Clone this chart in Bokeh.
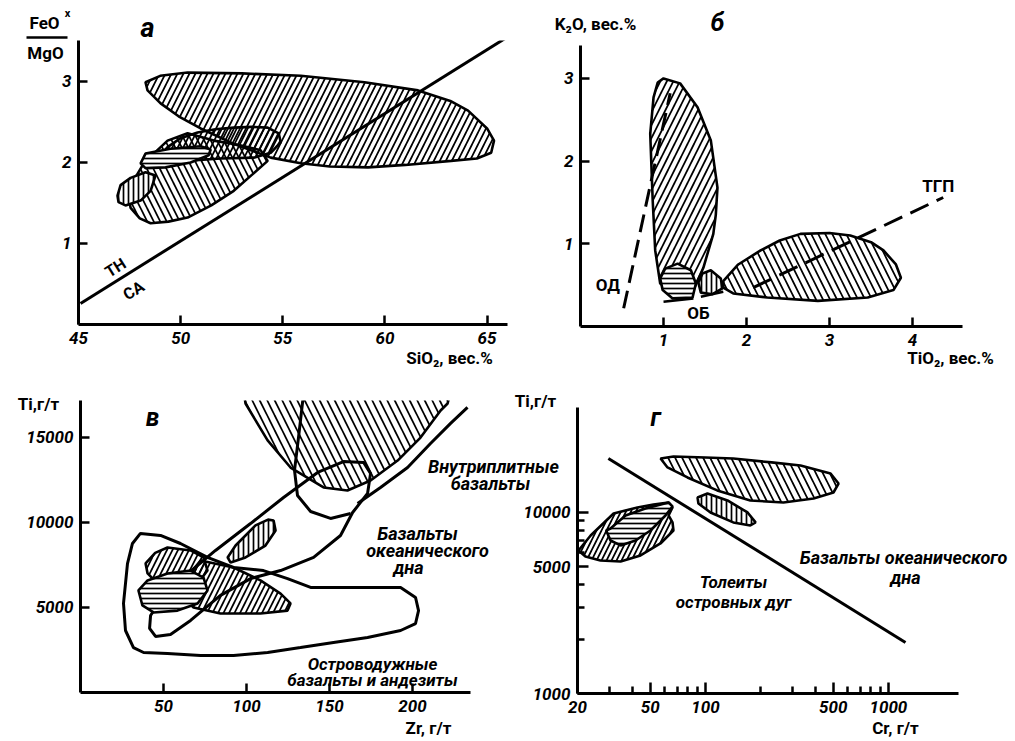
from bokeh.plotting import figure
from bokeh.models import Label, FixedTicker, GridBox, BasicTickFormatter, Range1d
from bokeh.layouts import column
from bokeh.embed import file_html
from bokeh.resources import INLINE

FONT = "Roboto"

# ---------------- Panel а : FeO*/MgO vs SiO2 ----------------
a_xticks = [45, 50, 55, 60, 65]
a_yticks = [1, 2, 3]
a_line_x = [45.1, 66.0]
a_line_y = [0.26, 3.55]
a_big_x = [48.28, 49.0, 50.34, 53.0, 55.88, 59.0, 61.62, 63.2, 64.07, 65.0, 65.34, 65.2, 64.5, 63.24, 61.0, 59.17, 57.3, 55.88, 54.41, 52.6, 50.98, 49.9, 49.02, 48.38]
a_big_y = [2.99, 3.07, 3.11, 3.10, 3.07, 2.99, 2.89, 2.76, 2.64, 2.42, 2.27, 2.12, 2.05, 2.02, 1.97, 1.94, 1.95, 1.99, 2.06, 2.23, 2.42, 2.57, 2.73, 2.89]
a_mid_x = [49.36, 50.0, 50.83, 51.7, 52.6, 53.5, 54.26, 54.8, 54.9, 54.41, 53.58, 51.96, 50.25, 49.41, 49.12]
a_mid_y = [2.19, 2.30, 2.37, 2.41, 2.43, 2.44, 2.43, 2.36, 2.25, 2.12, 2.06, 2.05, 2.02, 2.05, 2.12]
a_tear_x = [47.55, 48.0, 48.53, 49.4, 50.34, 51.5, 52.6, 53.5, 54.26, 53.92, 52.8, 51.62, 50.34, 49.36, 48.68, 48.1, 47.7, 47.45]
a_tear_y = [1.44, 1.31, 1.25, 1.27, 1.32, 1.47, 1.65, 1.85, 2.02, 2.15, 2.22, 2.27, 2.36, 2.27, 2.11, 1.95, 1.78, 1.57]
a_hor_x = [48.04, 48.28, 49.5, 50.98, 51.47, 51.37, 50.49, 49.26, 48.28]
a_hor_y = [1.99, 2.11, 2.17, 2.20, 2.16, 2.09, 2.00, 1.94, 1.93]
a_ver_x = [46.91, 47.06, 47.55, 48.28, 48.77, 48.53, 48.04, 47.3, 46.96]
a_ver_y = [1.59, 1.72, 1.81, 1.88, 1.84, 1.65, 1.53, 1.47, 1.51]

# ---------------- Panel б : K2O vs TiO2 ----------------
b_xticks = [1, 2, 3, 4]
b_yticks = [1, 2, 3]
b_tall_x = [1.0, 1.2, 1.41, 1.57, 1.65, 1.63, 1.6, 1.48, 1.36, 1.12, 0.96, 0.9, 0.87, 0.84, 0.88, 0.93]
b_tall_y = [3.0, 2.94, 2.65, 2.25, 1.68, 1.35, 1.12, 0.71, 0.44, 0.40, 0.52, 0.92, 1.52, 2.33, 2.77, 2.95]
b_hor_x = [1.17, 1.33, 1.39, 1.35, 1.11, 0.99, 0.96, 1.02]
b_hor_y = [0.76, 0.68, 0.52, 0.35, 0.34, 0.44, 0.58, 0.70]
b_ver_x = [1.57, 1.69, 1.71, 1.59, 1.45, 1.42, 1.47]
b_ver_y = [0.68, 0.58, 0.46, 0.39, 0.41, 0.53, 0.64]
b_wide_x = [1.72, 1.9, 2.17, 2.4, 2.65, 3.0, 3.25, 3.5, 3.65, 3.8, 3.86, 3.77, 3.46, 2.86, 2.25, 1.84, 1.72]
b_wide_y = [0.55, 0.75, 0.92, 1.04, 1.12, 1.13, 1.10, 1.02, 0.92, 0.75, 0.59, 0.44, 0.35, 0.31, 0.35, 0.40, 0.47]
b_ob_x = [1.0, 1.36]
b_ob_y = [0.30, 0.34]
b_tail_x = [1.45, 1.72]
b_tail_y = [0.36, 0.42]
b_od_x = [0.52, 1.08]
b_od_y = [0.22, 2.82]
b_tgp_x = [2.08, 4.37]
b_tgp_y = [0.47, 1.56]

# ---------------- Panel в : Ti vs Zr ----------------
c_xticks = [50, 100, 150, 200]
c_yticks = [5000, 10000, 15000]
c_wpb_x = [97, 99.4, 112.7, 126.5, 146.4, 160.8, 174.7, 191, 204.8, 216.9, 221.1, 225]
c_wpb_y = [18500, 16970, 14800, 13210, 12040, 11860, 12450, 13620, 14970, 16560, 16970, 18500]
c_bound_x = [166.9, 180.7, 197, 210.8, 222.9, 233.1]
c_bound_y = [11100, 12040, 13210, 14620, 15800, 16740]
c_loop_x = [134.3, 131.3, 128.9, 130.7, 138.6, 150.6, 162.7]
c_loop_y = [17500, 14970, 13040, 11570, 10630, 10220, 10510]
c_ocean_x = [42.2, 48.2, 63.3, 81.3, 102.4, 122.3, 142.8, 158.4, 170.5, 174.7, 172.9, 163.9, 156.6, 140.4, 120.5, 102.4, 84.3, 66.3, 54.2, 45.2, 41.6]
c_ocean_y = [4520, 5400, 6870, 8340, 9920, 11450, 12920, 13560, 13510, 12860, 11690, 10570, 9220, 7930, 7160, 6690, 5700, 4230, 3410, 3290, 3760]
c_arc_x = [36.1, 48.2, 60.2, 76.5, 92.2, 110.2, 124.7, 138.6, 152.4, 192.8, 201.8, 203.6, 201.8, 192.8, 172.9, 152.4, 132.5, 112.7, 92.2, 72.3, 52.4, 38, 31.9, 27.1, 25.9, 28.3, 31.3]
c_arc_y = [9340, 9220, 8750, 7930, 7340, 7160, 6690, 6170, 6170, 6170, 5580, 4810, 4050, 3640, 3230, 2940, 2640, 2350, 2170, 2170, 2290, 2350, 2640, 3640, 5230, 7570, 8750]
c_ver_x = [88.6, 93.4, 105.4, 113, 116.3, 117.5, 111.4, 99.4, 90.4]
c_ver_y = [7930, 8630, 9810, 10150, 10100, 9510, 8630, 7930, 7630]
c_d1_x = [39.2, 45, 52.4, 66.3, 74.1, 76.5, 70.5, 58.4, 46.4, 40.4]
c_d1_y = [7575, 8200, 8515, 8340, 7930, 7160, 6400, 6170, 6400, 6990]
c_d2_x = [72.3, 92.2, 108.4, 120.5, 126.5, 124.7, 108.4, 84.3, 68.1, 62, 65.1]
c_d2_y = [7750, 7340, 6580, 5810, 5230, 4810, 4640, 4640, 4990, 5580, 6870]
c_hor_x = [34.9, 40.4, 52.4, 66.3, 74.1, 76.5, 70.5, 58.4, 44, 37.3]
c_hor_y = [5990, 6580, 6990, 7160, 6750, 5990, 5230, 4810, 4700, 5110]

# ---------------- Panel г : Ti vs Cr (log-log) ----------------
d_xmajor = [20, 50, 100, 500, 1000]
d_xminor = [30, 40, 60, 70, 80, 90, 200, 300, 400, 600, 700, 800, 900]
d_ymajor = [1000, 5000, 10000]
d_yminor = [2000, 3000, 4000, 6000, 7000, 8000, 9000]
d_line_x = [29.5, 1240]
d_line_y = [19880, 1913]
d_top_x = [56.9, 67, 100, 142, 230, 331, 483, 534, 501, 390, 267, 176, 116, 79.8, 62.1]
d_top_y = [19860, 20390, 20100, 19860, 18900, 18190, 16420, 14450, 12890, 11950, 11360, 11640, 13240, 15610, 17730]
d_ver_x = [90.6, 102.6, 132, 170, 188, 176, 142, 106.6, 91.6]
d_ver_y = [12100, 12740, 11650, 10000, 8810, 8480, 8810, 10000, 11210]
d_s1_x = [20.25, 23.6, 31.5, 42.5, 52.0, 62.9, 66.1, 62.9, 66.1, 66.9, 56.8, 44.2, 34.4, 26.7, 22.1]
d_s1_y = [6166, 7464, 9874, 10660, 11070, 11360, 10660, 9625, 8806, 7954, 6742, 5786, 5362, 5431, 5713]
d_s2_x = [30.3, 36.6, 47.0, 62.9, 66.1, 60.5, 50.1, 41.5, 34.4, 30.3, 28.7]
d_s2_y = [8157, 9625, 10520, 11360, 10790, 9625, 7954, 7003, 6574, 7003, 7954]


def make_fig(w, h, xr, yr, borders, xt="linear", yt="linear"):
    l, r, t, b = borders
    p = figure(width=w, height=h, x_range=xr, y_range=yr, x_axis_type=xt, y_axis_type=yt,
               min_border_left=l, min_border_right=r, min_border_top=t, min_border_bottom=b,
               output_backend="svg", toolbar_location=None,
               background_fill_alpha=0, border_fill_alpha=0)
    p.grid.visible = False
    p.outline_line_color = None
    for ax in p.axis:
        ax.axis_line_width = 3
        ax.axis_line_color = "black"
        ax.major_tick_in = 9
        ax.major_tick_out = 0
        ax.major_tick_line_width = 2.5
        ax.minor_tick_in = 0
        ax.minor_tick_out = 0
        ax.major_label_text_font = FONT
        ax.major_label_text_font_style = "bold italic"
        ax.major_label_text_font_size = "17px"
        ax.major_label_text_color = "black"
        ax.major_label_standoff = 7
    return p


def blob(p, xs, ys, pattern, scale, fill=None, lw=2.6):
    p.patch(xs, ys, fill_color=fill if fill else None, fill_alpha=1 if fill else 0,
            line_color="black", line_width=lw,
            hatch_pattern=pattern, hatch_scale=scale, hatch_weight=1.7, hatch_color="black")


def lab(p, x, y, text, size=17, align="center", angle=0, style="bold italic"):
    p.add_layout(Label(x=x, y=y, text=text, text_font=FONT, text_font_style=style,
                       text_font_size=f"{size}px", text_align=align, text_baseline="middle",
                       angle=angle, text_color="black"))


# ---- а ----
pa = make_fig(508, 370, (45, 66.0), (0, 3.506), (78, 1, 40, 46))
pa.xaxis.ticker = FixedTicker(ticks=a_xticks)
pa.yaxis.ticker = FixedTicker(ticks=a_yticks)
blob(pa, a_big_x, a_big_y, "/", 12)
blob(pa, a_mid_x, a_mid_y, "/", 11)
blob(pa, a_tear_x, a_tear_y, "\\", 13)
blob(pa, a_ver_x, a_ver_y, "|", 5, fill="white")
blob(pa, a_hor_x, a_hor_y, "-", 5, fill="white")
pa.line(a_line_x, a_line_y, line_width=3, line_color="black")
lab(pa, 46.81, 0.70, "ТН", size=16, angle=0.559, style="bold")
lab(pa, 47.7, 0.42, "СА", size=16, angle=0.559, style="bold")

# ---- б ----
pb = make_fig(506, 370, (0, 4.602), (0, 3.398), (72, 52, 45, 44))
pb.xaxis.ticker = FixedTicker(ticks=b_xticks)
pb.yaxis.ticker = FixedTicker(ticks=b_yticks)
blob(pb, b_tall_x, b_tall_y, "/", 13)
blob(pb, b_wide_x, b_wide_y, "\\", 14)
blob(pb, b_hor_x, b_hor_y, "-", 5, fill="white")
blob(pb, b_ver_x, b_ver_y, "|", 5, fill="white")
pb.line(b_ob_x, b_ob_y, line_width=2.6, line_color="black")
pb.line(b_tail_x, b_tail_y, line_width=2.6, line_color="black")
pb.line(b_od_x, b_od_y, line_width=3, line_color="black", line_dash="18 8")
pb.line(b_tgp_x, b_tgp_y, line_width=3, line_color="black", line_dash="20 9")
lab(pb, 0.33, 0.50, "ОД", size=17, style="bold")
lab(pb, 1.42, 0.16, "ОБ", size=17, style="bold")
lab(pb, 4.31, 1.70, "ТГП", size=17, style="bold")

# ---- в ----
pc = make_fig(508, 370, (0, 234.9), (0, 17146), (80, 38, 30, 48))
pc.xaxis.ticker = FixedTicker(ticks=c_xticks)
pc.yaxis.ticker = FixedTicker(ticks=c_yticks)
pc.xaxis.formatter = BasicTickFormatter(use_scientific=False)
pc.yaxis.formatter = BasicTickFormatter(use_scientific=False)
blob(pc, c_wpb_x, c_wpb_y, "\\", 15)
blob(pc, c_arc_x, c_arc_y, " ", 10, lw=3)
blob(pc, c_ocean_x, c_ocean_y, " ", 10, lw=3)
blob(pc, c_d1_x, c_d1_y, "/", 11)
blob(pc, c_d2_x, c_d2_y, "/", 11)
blob(pc, c_hor_x, c_hor_y, "-", 5, fill="white")
blob(pc, c_ver_x, c_ver_y, "|", 5, fill="white")
pc.line(c_loop_x, c_loop_y, line_width=3, line_color="black")
pc.line(c_bound_x, c_bound_y, line_width=3, line_color="black")
lab(pc, 43.4, 16150, "в", size=25)
lab(pc, 175.9, 1700, "Островодужные", size=17)
lab(pc, 175.9, 763, "базальты и андезиты", size=17)

# ---- г ----
pd_ = make_fig(506, 370, (20, 2416), (1000, 38000), (69, 56, 37, 47), xt="log", yt="log")
pd_.xaxis.ticker = FixedTicker(ticks=d_xmajor, minor_ticks=d_xminor)
pd_.yaxis.ticker = FixedTicker(ticks=d_ymajor, minor_ticks=d_yminor)
pd_.xaxis.formatter = BasicTickFormatter(use_scientific=False)
pd_.yaxis.formatter = BasicTickFormatter(use_scientific=False)
for ax in pd_.axis:
    ax.minor_tick_in = 7
    ax.minor_tick_line_width = 2.5
    ax.major_tick_in = 11
blob(pd_, d_top_x, d_top_y, "\\", 14)
blob(pd_, d_s1_x, d_s1_y, "/", 10)
blob(pd_, d_s2_x, d_s2_y, "-", 5, fill="white")
blob(pd_, d_ver_x, d_ver_y, "|", 5, fill="white")
pd_.line(d_line_x, d_line_y, line_width=3, line_color="black")
lab(pd_, 53.4, 33500, "г", size=25)
lab(pd_, 142.4, 4105, "Толеиты", size=17)
lab(pd_, 142.4, 3183, "островных дуг", size=17)

# ---- overlay for titles and names that lie outside the plotting frames ----
ov = figure(width=1014, height=740, x_range=(0, 1014), y_range=Range1d(740, 0),
            min_border=0, x_axis_location=None, y_axis_location=None,
            output_backend="svg", toolbar_location=None,
            background_fill_alpha=0, border_fill_alpha=0)
ov.outline_line_color = None
ov.grid.visible = False
lab(ov, 147, 27, "а", size=27)
lab(ov, 44, 22, "FeO", size=17, style="bold")
lab(ov, 67, 13, "x", size=11, style="bold")
ov.line([26, 67], [37, 37], line_width=2.5, line_color="black")
lab(ov, 45, 52, "MgO", size=17, style="bold")
lab(ov, 449, 357, "SiO₂, вес.%", size=17, style="bold")
lab(ov, 717, 22, "б", size=25)
lab(ov, 595, 23, "K₂O, вес.%", size=17, style="bold")
lab(ov, 950, 357, "TiO₂, вес.%", size=17, style="bold")
lab(ov, 38, 403, "Ti,г/т", size=17, style="bold")
lab(ov, 428, 727, "Zr, г/т", size=17, style="bold")
lab(ov, 493, 466, "Внутриплитные", size=18)
lab(ov, 490, 483, "базальты", size=18)
lab(ov, 417, 533, "Базальты", size=18)
lab(ov, 427, 550, "океанического", size=18)
lab(ov, 408, 567, "дна", size=18)
lab(ov, 535, 400, "Ti,г/т", size=17, style="bold")
lab(ov, 903, 557, "Базальты океанического", size=18)
lab(ov, 905, 577, "дна", size=18)
lab(ov, 895, 727, "Cr, г/т", size=17, style="bold")

grid = GridBox(children=[(column(pa), 0, 0), (column(pb), 0, 1), (column(pc), 1, 0),
                         (column(pd_), 1, 1), (column(ov), 0, 0, 2, 2)],
               rows=["370px", "370px"], cols=["508px", "506px"], spacing=0)

open("out.html", "w").write(file_html(grid, INLINE))
